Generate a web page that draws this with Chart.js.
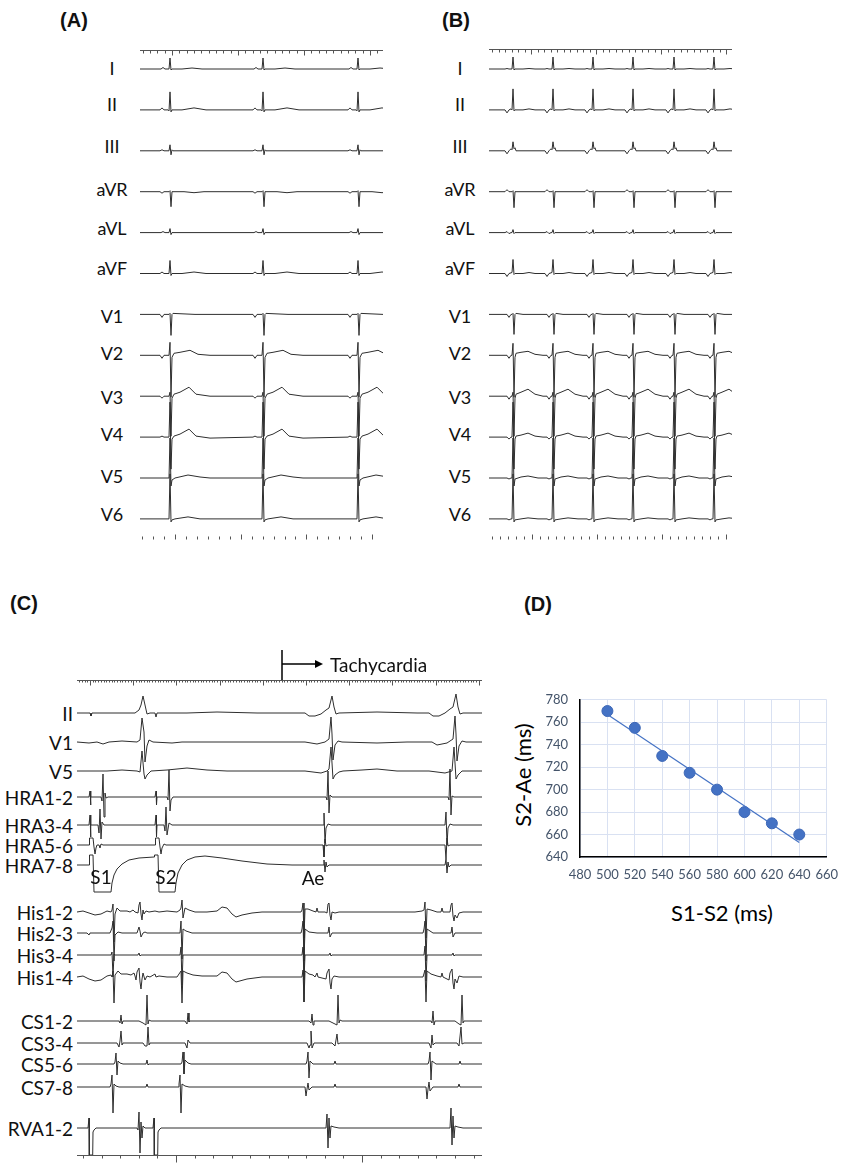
<!DOCTYPE html>
<html>
<head>
<meta charset="utf-8">
<title>Atrial tachycardia: ECG, intracardiac recording and S1-S2 vs S2-Ae</title>
<script src="https://cdn.jsdelivr.net/npm/chart.js@4.4.1/dist/chart.umd.min.js"></script>
<style>
    body { margin: 0; background: #fff; }
    #fig { position: relative; width: 848px; height: 1164px; overflow: hidden; font-family: Lato, "Open Sans", sans-serif; color: #111; }
    #fig canvas { position: absolute; }
    .lbl { position: absolute; white-space: nowrap; line-height: 1; }
    .lead { font-size: 18px; }
    .chan { font-size: 19px; }
    .panel { font-family: "Liberation Sans", Arial, sans-serif; font-weight: bold; font-size: 20px; }
    .axt { font-size: 22px; color: #000; }
</style>
</head>
<body>
<div id="fig">
    <canvas id="ecgA"></canvas>
    <canvas id="ecgB"></canvas>
    <canvas id="ecgC"></canvas>
    <canvas id="plotD"></canvas>
</div>
<script>
(function () {
    "use strict";

    // ---------------- data ----------------

    // lead names
    const surfaceLeads = ['I', 'II', 'III', 'aVR', 'aVL', 'aVF', 'V1', 'V2', 'V3', 'V4', 'V5', 'V6'];
    const ephysLeads = ['II', 'V1', 'V5', 'HRA1-2', 'HRA3-4', 'HRA5-6', 'HRA7-8', 'His1-2', 'His2-3', 'His3-4', 'His1-4',
        'CS1-2', 'CS3-4', 'CS5-6', 'CS7-8', 'RVA1-2'];

    // QRS times along the strip (strip units, strip start = 0)
    const sinusBeats = [30, 123, 218];
    const tachyBeats = [24, 64, 104, 144, 185, 225];

    // one beat per lead: [time from QRS, deflection up]
    const sinusShapes = [
        [[-9, 0], [-7, 1.5], [-5, 0], [-1, 0], [0, 11], [1, -1], [2, 0], [12, 0], [22, 1], [32, 0]],
        [[-10, 0], [-8, 2], [-6, 0], [-2, 0], [-1, -1], [0, 18], [1, -2], [2, 0], [12, 0], [24, 2], [36, 0]],
        [[-10, 0], [-8, 1], [-6, 0], [-1, 0], [0, 6], [1, -4], [2, 1], [3, 0]],
        [[-10, 0], [-8, -1.5], [-6, 0], [-1, 0], [0, 1], [1, -15], [2, 0], [14, 0], [24, -1], [34, 0]],
        [[-9, 0], [-7, 1], [-5, 0], [-1, 0], [0, 4], [1, -2], [2, 0]],
        [[-10, 0], [-8, 1.5], [-6, 0], [-1, 0], [0, 13], [1, -2], [2, 0], [12, 0], [24, 1.5], [36, 0]],
        [[-10, 0], [-8, -3], [-6, 0], [-1, 0], [0, 1], [1, -21], [2, 0], [3, 1], [25, 0]],
        [[-10, 0], [-8, -3], [-6, 0], [-1, 0], [0, 13], [1, -42], [2, -2], [4, 2], [10, 3], [20, 5], [28, 1], [40, 0]],
        [[-10, 0], [-8, -2], [-6, 0], [-1, 0], [0, 4], [1, -40], [2, -2], [4, 2], [10, 4], [19, 9], [26, 2], [40, 0]],
        [[-10, 0], [-8, 1], [-6, 0], [-1, 0], [0, 35], [1, -32], [2, -2], [4, 1], [10, 3], [19, 8], [26, 1], [40, -1]],
        [[-1, 0], [0, 40], [1, -8], [2, -2], [5, 0], [18, 3], [30, 1], [40, 0]],
        [[-1, 0], [0, 45], [1, -3], [2, -1], [5, 0], [18, 2], [30, 0]]
    ];
    const tachyShapes = [
        [[-8, 0], [-6, 0.5], [-4, 0], [-1, 0], [0, 12], [1, -1], [2, 0], [10, 0], [16, 0.5], [22, 0]],
        [[-8, 0], [-6, -3], [-4, 0], [-2, 1], [-1, 0], [0, 21], [1, -1], [2, 0], [10, 0], [16, 1], [22, 0]],
        [[-8, 0], [-6, -3], [-4, 0], [-2, 2], [-1, 1], [0, 9], [1, 2], [2, 3], [3, 0]],
        [[-8, 0], [-6, 2], [-4, 0], [-1, 0], [0, 1], [1, -16], [2, 0]],
        [[-8, 0], [-6, 1], [-4, -1], [-2, 0], [-1, 0], [0, 3], [1, -1], [2, 0]],
        [[-8, 0], [-6, -3], [-4, 0], [-1, 1], [0, 14], [1, -1], [2, 0], [10, 0], [16, 1], [22, 0]],
        [[-6, 0], [-4, -3], [-2, 0], [-1, 0], [0, 1], [1, -20], [2, 0], [3, 1], [10, 0]],
        [[-6, 0], [-4, -3], [-2, 0], [-1, 0], [0, 12], [1, -42], [2, -2], [3, 2], [8, 3], [15, 4], [22, 1], [30, 0]],
        [[-6, 0], [-4, -3], [-2, 0], [-1, 0], [0, 4], [1, -40], [2, -2], [3, 2], [8, 4], [15, 7], [22, 2], [30, 0]],
        [[-6, 0], [-4, -2], [-2, 0], [-1, 0], [0, 35], [1, -32], [2, -2], [3, 1], [8, 2], [15, 4], [22, 1], [30, 0]],
        [[-6, 0], [-4, -1], [-2, 0], [-1, 0], [0, 40], [1, -8], [2, -1], [8, 1], [15, 2], [25, 0]],
        [[-6, 0], [-4, -1], [-2, 0], [-1, 0], [0, 45], [1, -3], [2, -1], [8, 0], [15, 1], [25, 0]]
    ];

    // panel C: whole strip per channel, [time, deflection up]
    const ephysTraces = [
        [[0, 0], [13, 0], [14, -3], [15, 0], [58, 0], [62, 3], [64, 8], [66, 17], [68, 8], [70, -1], [73, 0], [78, 0], [79, -4], [80, 0],
            [110, 0], [140, 1], [180, 0], [228, 0], [232, -3], [238, -3], [244, -1], [249, 3], [252, 5], [255, 17], [257, 6], [259, -1], [262, 0],
            [300, 1], [340, 0], [352, 0], [356, -3], [362, -3], [368, 0], [373, 4], [376, 6], [379, 19], [381, 6], [383, -1], [386, 0], [405, 0]],
        [[0, 0], [12, -1], [20, 0], [26, -2], [32, 0], [45, 1], [60, 0], [63, 2], [65, 24], [67, 10], [68, -20], [70, -4], [72, 2], [76, 0],
            [95, -1], [105, 0], [228, 0], [240, -2], [248, 0], [252, 3], [254, 25], [255, 8], [256, -18], [258, -3], [261, 1], [265, 0],
            [300, -1], [330, 0], [355, 0], [360, -3], [370, -1], [376, 3], [378, 26], [379, 8], [380, -19], [382, -4], [385, 1], [389, 0], [405, 0]],
        [[0, 0], [30, 0], [45, 1], [60, 0], [63, -1], [65, 20], [67, -3], [68, -8], [70, -4], [74, 0], [90, 1], [110, 3], [130, 1], [150, 0],
            [228, 0], [244, -2], [250, 0], [252, 2], [254, 24], [256, -8], [258, -4], [262, -1], [266, 0], [285, 1], [300, 2], [320, 0],
            [352, 0], [368, -2], [375, 0], [377, 24], [379, -8], [381, -4], [385, 0], [405, 0]],
        [[0, 0], [12, 0], [13, 6], [13.5, -8], [14, 0], [24, 0], [25, -4], [26, 23], [27, -20], [28, 4], [29, -1], [31, 0],
            [78, 0], [79, 6], [79.5, -8], [80, 0], [90, 0], [91, -3], [92, 27], [93, -14], [94, -3], [96, 0],
            [249, 0], [250, -3], [251, 26], [252, -16], [253, 2], [255, 0], [371, 0], [372, -3], [373, 28], [374, -18], [375, 1], [377, 0], [405, 0]],
        [[0, 0], [12, 0], [13, 10], [13.5, -12], [14, 0], [21, 0], [22, -8], [23, 16], [24, -14], [25, 3], [27, 0],
            [78, 0], [79, 10], [79.5, -12], [80, 0], [87, 0], [88, -6], [89, 18], [90, -10], [92, 2], [95, 0],
            [246, 0], [247, 12], [248, -18], [249, -3], [251, 1], [254, 0], [368, 0], [369, 13], [370, -20], [371, -3], [373, 1], [376, 0], [405, 0]],
        [[0, 0], [12, 0], [12.5, 7], [16, 7], [17, -2], [18, -9], [19, -3], [20, 0], [22, 0], [23, -3], [24, 1], [26, 0],
            [78, 0], [78.5, 7], [82, 7], [83, -2], [84, -9], [85, -3], [87, 1], [89, 0],
            [246, 0], [247, -12], [248, 6], [249, -1], [251, 0], [368, 0], [369, -14], [370, 7], [371, -1], [373, 0], [405, 0]],
        [[0, 0], [12, 0], [12.5, 10], [16, 10], [17, -27], [34, -27], [35, -18], [37, -10], [40, -4], [45, 1], [52, 5], [62, 7], [77, 8],
            [77.5, 10], [81, 10], [82, -27], [98, -27], [99, -18], [101, -8], [105, 0], [110, 5], [118, 8], [128, 9], [145, 7], [165, 4],
            [190, 1], [215, 0], [246, 0], [247, 5], [248, -7], [249, 3], [250, -2], [252, 0],
            [368, 0], [369, 6], [370, -8], [371, 3], [372, -2], [374, 0], [405, 0]],
        [[0, 0], [6, 1], [12, -1], [18, -3], [24, -2], [30, 1], [34, 0], [35, 2], [36, 8], [37, -30], [38, -2], [40, 4], [43, 1], [50, 1],
            [53, 0], [56, 2], [58, 0], [61, -1], [62, 7], [63, 10], [64, -2], [65, -8], [66, 2], [67, -2], [69, 1], [72, 0], [78, 1], [82, 0],
            [90, 1], [100, 0], [103, 2], [104, 4], [105, 12], [106, -6], [108, 4], [112, 2], [118, 0], [130, 0], [140, 1], [145, 5], [150, 4],
            [155, -2], [159, -5], [165, -3], [175, -1], [185, 0], [224, 0], [225, 2], [226, 9], [227, -26], [228, 3], [231, 3], [236, 1],
            [239, 0], [240, 4], [241, 0], [248, 0], [250, -1], [251, 8], [252, 9], [253, -3], [254, -8], [255, 0], [258, -1], [262, 0],
            [338, 0], [345, 1], [347, 2], [348, 10], [349, -26], [350, 3], [354, 2], [360, 0], [364, 0], [365, 4], [366, 0],
            [373, 0], [374, 7], [375, 9], [376, -4], [377, -9], [378, -3], [380, -6], [382, -1], [386, 0], [405, 0]],
        [[0, 0], [10, 0], [12, -2], [13, 0], [33, 0], [35, 5], [36, 12], [37, -28], [38, -2], [41, 1], [45, 0], [60, 0], [61, 3], [62, 6],
            [63, 2], [64, -4], [66, 0], [68, 1], [70, 0], [103, 0], [104, 12], [105, -26], [106, 4], [109, 2], [115, 0],
            [224, 0], [225, 4], [226, 12], [227, -28], [228, 4], [232, 1], [240, 0], [251, 0], [252, 6], [253, -4], [255, 0],
            [346, 0], [347, 4], [348, 12], [349, -28], [350, 4], [356, 0], [374, 0], [375, 6], [376, -4], [378, 0], [405, 0]],
        [[0, 0], [34, 0], [35, 3], [36, -22], [37, 1], [38, 0], [61, 0], [62, 2], [63, -1], [64, 0], [103, 0], [104, 8], [105, -30], [106, 0],
            [225, 0], [226, 8], [227, -25], [228, 0], [252, 0], [253, 2], [254, -1], [255, 0], [347, 0], [348, 9], [349, -26], [350, 0],
            [375, 0], [376, 2], [377, -1], [378, 0], [405, 0]],
        [[0, 0], [6, 1], [12, -2], [18, -4], [24, -3], [30, 1], [34, 2], [35, 0], [36, 6], [37, -26], [38, 2], [41, 6], [44, 3], [50, 3],
            [54, 2], [57, 4], [58, 1], [59, -3], [60, 5], [62, 9], [63, -5], [64, -12], [65, -2], [66, 4], [68, -3], [70, 1], [73, 0],
            [78, 3], [79, 0], [82, 1], [90, 0], [100, 0], [104, 6], [105, -26], [106, 6], [110, 4], [116, 2], [125, 1], [140, 1], [145, 5],
            [150, 4], [155, -2], [159, -5], [170, -2], [185, 0], [225, 0], [226, 7], [227, -25], [228, 6], [232, 3], [236, 2], [238, 0],
            [240, 4], [241, 0], [249, -2], [250, 4], [252, 8], [253, -6], [254, -12], [255, -2], [257, 1], [262, 0],
            [346, 0], [348, 7], [349, -25], [350, 6], [354, 3], [360, 1], [364, 0], [365, 4], [366, 0], [372, -3], [373, 4], [375, 8],
            [376, -6], [377, -12], [378, -2], [380, -6], [382, 1], [386, 0], [405, 0]],
        [[0, 0], [42, 0], [43, -2], [44, 6], [45, -3], [46, 0], [62, 0], [66, -2], [69, -4], [70, 26], [71, -3], [72, 1], [74, 0],
            [108, 0], [110, -3], [111, 8], [112, -1], [113, 0], [232, 0], [234, -2], [235, 7], [236, -4], [237, 0],
            [252, 0], [256, -2], [260, -4], [261, 26], [262, -2], [263, 1], [265, 0], [354, 0], [355, -2], [356, 10], [357, -4], [358, 0],
            [378, 0], [382, -3], [384, -4], [385, 26], [386, -2], [387, 0], [405, 0]],
        [[0, 0], [40, 0], [42, -4], [43, 2], [44, 12], [45, -2], [46, 0], [66, 0], [68, -3], [70, -3], [71, 16], [72, -2], [73, 0],
            [108, 0], [110, -5], [111, 3], [113, 0], [230, 0], [232, -5], [233, -2], [234, 12], [235, -5], [237, 0],
            [255, 0], [258, -3], [260, 9], [261, -1], [263, 0], [352, 0], [354, -5], [355, 8], [356, -2], [358, 0],
            [380, 0], [382, -3], [384, 16], [385, -1], [387, 0], [405, 0]],
        [[0, 0], [37, 0], [38, 2], [39, 11], [40, -11], [41, 3], [43, 1], [46, 0], [69, 0], [70, 4], [71, -1], [72, 0],
            [104, 0], [105, 2], [106, 12], [107, -10], [108, 4], [111, 1], [114, 0], [229, 0], [230, 3], [231, 12], [232, -14], [233, 3],
            [236, 0], [257, 0], [258, 3], [259, 0], [351, 0], [352, 3], [353, 12], [354, -16], [355, 3], [359, 0],
            [382, 0], [383, 3], [384, 0], [405, 0]],
        [[0, 0], [33, 0], [34, 3], [35, 12], [36, -26], [37, 3], [39, 1], [42, 0], [69, 0], [70, 3], [71, 0],
            [101, 0], [102, 3], [103, 12], [104, -26], [105, 3], [108, 1], [112, 0], [228, 0], [229, -9], [230, -2], [231, 4], [232, -3],
            [235, 0], [257, 0], [258, 3], [259, 0], [349, 0], [350, -12], [351, -2], [352, 5], [353, -4], [356, 0],
            [381, 0], [382, 3], [383, 0], [405, 0]],
        [[0, 0], [11, 0], [12, 10], [12.3, -27], [15.7, -27], [16, -4], [17, -2], [19, 0], [60, 0], [61, -2], [62, 16], [63, -25],
            [64, 6], [65, -10], [66, 2], [68, 0], [76, 0], [77, 10], [77.3, -27], [80.7, -27], [81, -4], [82, -2], [84, 0],
            [249, 0], [250, 14], [251, -20], [252, 10], [253, -10], [254, 2], [257, 1], [262, 0],
            [373, 0], [374, 20], [375, -17], [376, 12], [377, -10], [378, 2], [381, 1], [386, 0], [405, 0]]
    ];

    // panel D: S1-S2 coupling interval vs S2-Ae interval (ms)
    const s1s2 = [500, 520, 540, 560, 580, 600, 620, 640];
    const s2ae = [770, 755, 730, 715, 700, 680, 670, 660];
    const trendS1S2 = [500, 640];
    const trendS2Ae = [767, 653];

    // ---------------- layout ----------------
    const INK = '#2e2e2e';
    const RULER = '#555';
    const boxA = { left: 140, top: 40, width: 243, height: 510 };
    const boxB = { left: 489, top: 40, width: 243, height: 510 };
    const boxC = { left: 77, top: 640, width: 405, height: 524 };
    const rowTop = 69, rowGap = 40.9;
    const surfaceLabelY = [68, 104, 146, 189, 228, 268, 316, 353, 397, 434, 476, 514];
    const ephysRows = [713, 742, 771, 797, 825, 845, 865, 912, 933, 955, 977, 1021, 1043, 1064, 1087, 1128];

    const fig = document.getElementById('fig');

    function label(text, x, y, cls, align) {
        const d = document.createElement('div');
        d.className = 'lbl ' + cls;
        d.textContent = text;
        d.style.left = x + 'px';
        d.style.top = y + 'px';
        if (align === 'right') d.style.transform = 'translate(-100%,-50%)';
        else if (align === 'left') d.style.transform = 'translate(0,-50%)';
        else d.style.transform = 'translate(-50%,-50%)';
        fig.appendChild(d);
        return d;
    }

    // repeat a lead's beat shape at every QRS time
    function beatTrace(beats, shape, width) {
        const pts = [[0, 0]];
        beats.forEach(function (t) {
            shape.forEach(function (p) { pts.push([t + p[0], p[1]]); });
        });
        if (pts[pts.length - 1][0] < width) pts.push([width, 0]);
        return pts;
    }

    // rulers, tachycardia marker
    const stripExtras = {
        id: 'stripExtras',
        afterDatasetsDraw: function (chart, args, opts) {
            const ctx = chart.ctx;
            const xs = chart.scales.x, ys = chart.scales.y;
            ctx.save();
            ctx.strokeStyle = RULER;
            ctx.lineWidth = 1;
            (opts.rulers || []).forEach(function (r) {
                const y = Math.round(ys.getPixelForValue(r.y)) + 0.5;
                ctx.beginPath();
                if (r.line) {
                    ctx.moveTo(xs.getPixelForValue(xs.min), y);
                    ctx.lineTo(xs.getPixelForValue(xs.max), y);
                }
                for (let k = 0; r.start + k * r.step <= xs.max; k++) {
                    const x = Math.round(xs.getPixelForValue(r.start + k * r.step)) + 0.5;
                    const len = (k % r.bigEvery === r.bigPhase) ? r.big : r.small;
                    ctx.moveTo(x, y);
                    ctx.lineTo(x, y + r.dir * len);
                }
                ctx.stroke();
            });
            const m = opts.marker;
            if (m) {
                const x = xs.getPixelForValue(m.x), tip = xs.getPixelForValue(m.to);
                const ay = ys.getPixelForValue(m.arrowY);
                ctx.strokeStyle = '#000';
                ctx.fillStyle = '#000';
                ctx.lineWidth = 1.5;
                ctx.beginPath();
                ctx.moveTo(x, ys.getPixelForValue(m.y0));
                ctx.lineTo(x, ys.getPixelForValue(m.y1));
                ctx.moveTo(x, ay);
                ctx.lineTo(tip - 6, ay);
                ctx.stroke();
                ctx.beginPath();
                ctx.moveTo(tip, ay);
                ctx.lineTo(tip - 8, ay - 4);
                ctx.lineTo(tip - 8, ay + 4);
                ctx.closePath();
                ctx.fill();
            }
            ctx.restore();
        }
    };

    function stripChart(id, box, traces, rows, extras) {
        const cv = document.getElementById(id);
        cv.width = box.width;
        cv.height = box.height;
        cv.style.left = box.left + 'px';
        cv.style.top = box.top + 'px';
        const datasets = traces.map(function (pts, i) {
            const base = rows[i] - box.top;
            return {
                data: pts.map(function (p) { return { x: p[0], y: base - p[1] }; }),
                borderColor: INK,
                borderWidth: 1,
                pointRadius: 0,
                fill: false
            };
        });
        // page y -> chart value
        const opts = {
            rulers: (extras.rulers || []).map(function (r) { return Object.assign({}, r, { y: r.y - box.top }); }),
            marker: extras.marker ? Object.assign({}, extras.marker, {
                y0: extras.marker.y0 - box.top, y1: extras.marker.y1 - box.top, arrowY: extras.marker.arrowY - box.top
            }) : null
        };
        return new Chart(cv, {
            type: 'line',
            data: { datasets: datasets },
            options: {
                responsive: false,
                animation: false,
                devicePixelRatio: 1,
                events: [],
                parsing: false,
                layout: { padding: 0 },
                elements: { line: { tension: 0 } },
                scales: {
                    x: { type: 'linear', display: false, min: 0, max: box.width },
                    y: { type: 'linear', display: false, min: 0, max: box.height, reverse: true }
                },
                plugins: { legend: { display: false }, tooltip: { enabled: false }, stripExtras: opts }
            },
            plugins: [stripExtras]
        });
    }

    const surfaceRows = surfaceLeads.map(function (n, i) { return rowTop + i * rowGap; });

    // Panel A: sinus rhythm
    stripChart('ecgA', boxA, sinusShapes.map(function (s) { return beatTrace(sinusBeats, s, boxA.width); }), surfaceRows, {
        rulers: [
            { y: 50, start: 2.7, step: 7.33, bigEvery: 9, bigPhase: 4, small: 3, big: 5, dir: 1, line: true },
            { y: 539, start: 2.2, step: 10.95, bigEvery: 6, bigPhase: 3, small: 3, big: 5, dir: -1, line: false }
        ]
    });

    // Panel B: tachycardia
    stripChart('ecgB', boxB, tachyShapes.map(function (s) { return beatTrace(tachyBeats, s, boxB.width); }), surfaceRows, {
        rulers: [
            { y: 49, start: 3, step: 6.5, bigEvery: 10, bigPhase: 6, small: 3, big: 5, dir: 1, line: true },
            { y: 539, start: 2.5, step: 8.1, bigEvery: 8, bigPhase: 5, small: 3, big: 5, dir: -1, line: false }
        ]
    });

    // Panel C: intracardiac recording
    stripChart('ecgC', boxC, ephysTraces, ephysRows, {
        rulers: [
            { y: 680, start: 2.2, step: 2.7, bigEvery: 16, bigPhase: 4, small: 2, big: 5, dir: 1, line: true },
            { y: 1155, start: 6, step: 18.6, bigEvery: 10, bigPhase: 5, small: 3, big: 7, dir: 1, line: true }
        ],
        marker: { x: 205, to: 246, y0: 650, y1: 680, arrowY: 664 }
    });

    // lead labels
    surfaceLeads.forEach(function (n, i) {
        label(n, 112, surfaceLabelY[i], 'lead');
        label(n, 460, surfaceLabelY[i], 'lead');
    });
    ephysLeads.forEach(function (n, i) { label(n, 73, ephysRows[i], 'chan', 'right'); });
    label('Tachycardia', 330, 664, 'chan', 'left');
    label('S1', 101, 876, 'chan');
    label('S2', 166, 876, 'chan');
    label('Ae', 313, 877, 'chan');

    label('(A)', 74, 20, 'panel');
    label('(B)', 456, 20, 'panel');
    label('(C)', 24, 603, 'panel');
    label('(D)', 538, 604, 'panel');

    // Panel D: scatter with trend line
    const cvD = document.getElementById('plotD');
    cvD.width = 308;
    cvD.height = 207;
    cvD.style.left = '540px';
    cvD.style.top = '680px';
    const tickFont = { family: 'Lato', size: 13 };
    new Chart(cvD, {
        type: 'scatter',
        data: {
            datasets: [{
                type: 'line',
                data: trendS1S2.map(function (x, i) { return { x: x, y: trendS2Ae[i] }; }),
                borderColor: '#4472C4',
                borderWidth: 1.2,
                pointRadius: 0
            }, {
                data: s1s2.map(function (x, i) { return { x: x, y: s2ae[i] }; }),
                backgroundColor: '#4472C4',
                borderColor: '#3d67b6',
                borderWidth: 1,
                pointRadius: 5.5
            }]
        },
        options: {
            responsive: false,
            animation: false,
            devicePixelRatio: 1,
            events: [],
            layout: { padding: { top: 18, right: 12, left: 0, bottom: 0 } },
            plugins: { legend: { display: false }, tooltip: { enabled: false } },
            scales: {
                x: {
                    type: 'linear', min: 480, max: 660,
                    ticks: { stepSize: 20, color: '#44546a', font: tickFont, padding: 10, autoSkip: false, maxRotation: 0 },
                    grid: { color: '#d9e1f2', drawTicks: false },
                    border: { color: '#000', width: 1.5 },
                    afterFit: function (s) { s.height = 30; }
                },
                y: {
                    type: 'linear', min: 640, max: 780,
                    ticks: { stepSize: 20, color: '#44546a', font: tickFont, padding: 12 },
                    grid: { color: '#d9e1f2', drawTicks: false },
                    border: { color: '#000', width: 1.5 },
                    afterFit: function (s) { s.width = 40; }
                }
            }
        }
    });
    label('S1-S2 (ms)', 722, 913, 'axt');
    const yt = label('S2-Ae (ms)', 523, 775, 'axt');
    yt.style.transform = 'translate(-50%,-50%) rotate(-90deg)';
})();
</script>
</body>
</html>
